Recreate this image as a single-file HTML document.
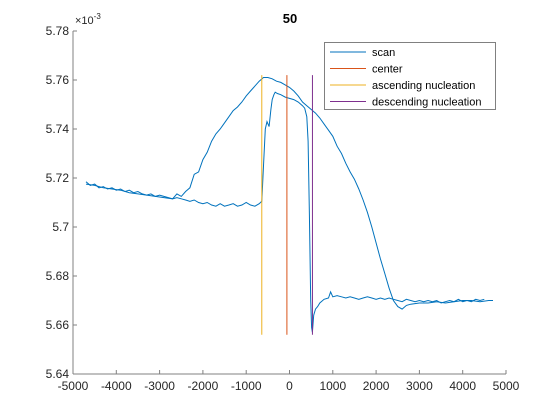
<!DOCTYPE html>
<html><head><meta charset="utf-8"><style>
body{margin:0;background:#fff;}
svg{display:block;font-family:"Liberation Sans",sans-serif;}
</style></head><body>
<svg id="chart" width="560" height="420">
<rect x="0" y="0" width="560" height="420" fill="#fff"/>
<text x="290" y="23" text-anchor="middle" font-size="13" font-weight="bold" fill="#000">50</text>
<text x="75" y="24" font-size="11" fill="#262626">×10<tspan dy="-5" font-size="8">-3</tspan></text>
<g id="axes"></g>
<g id="series"></g>
<g id="legend">
<rect x="324.5" y="42.5" width="171" height="67" fill="#fff" stroke="#808080" stroke-width="1"/>
</g>
</svg>
<script>
const xTicks=[-5000,-4000,-3000,-2000,-1000,0,1000,2000,3000,4000,5000];
const yTicks=[5.64,5.66,5.68,5.70,5.72,5.74,5.76,5.78];
const yTickLabels=["5.64","5.66","5.68","5.7","5.72","5.74","5.76","5.78"];
// branch 1 (flat then jump then dip)
const scan1X=[-4700,-4600,-4500,-4400,-4300,-4200,-4100,-4000,-3900,-3800,-3700,-3600,-3500,-3400,-3300,-3200,-3100,-3000,-2900,-2800,-2700,-2600,-2500,-2400,-2300,-2200,-2100,-2000,-1900,-1800,-1700,-1600,-1500,-1400,-1300,-1200,-1100,-1000,-900,-800,-700,-640,-600,-560,-520,-470,-430,-400,-360,-330,-280,-200,-100,0,100,200,300,350,400,430,460,490,510,530,560,600,650,700,800,900,950,1000,1100,1200,1300,1400,1500,1600,1700,1800,1900,2000,2100,2200,2300,2400,2500,2600,2700,2800,2900,3000,3100,3200,3300,3400,3500,3600,3700,3800,3900,4000,4100,4200,4300,4400,4500,4600,4700];
const scan1Y=[5.7185,5.717,5.7175,5.716,5.7165,5.7155,5.716,5.715,5.7155,5.7145,5.715,5.714,5.7145,5.7135,5.713,5.7135,5.7125,5.713,5.7125,5.712,5.7115,5.712,5.7115,5.711,5.7105,5.711,5.710,5.7095,5.710,5.709,5.7085,5.7095,5.7085,5.709,5.7095,5.7085,5.709,5.710,5.709,5.7085,5.7095,5.7105,5.725,5.740,5.743,5.741,5.748,5.752,5.754,5.755,5.7545,5.754,5.753,5.7525,5.752,5.751,5.7495,5.7485,5.745,5.735,5.705,5.67,5.659,5.657,5.664,5.6665,5.6675,5.669,5.6705,5.671,5.6735,5.6715,5.672,5.6715,5.671,5.6715,5.671,5.6705,5.671,5.6715,5.671,5.6705,5.671,5.6705,5.671,5.6705,5.670,5.6695,5.6705,5.670,5.6695,5.670,5.6695,5.670,5.6695,5.670,5.669,5.6695,5.670,5.6695,5.6705,5.6695,5.670,5.6695,5.6705,5.670,5.6705];
// branch 2 (hump)
const scan2X=[-4700,-4500,-4300,-4100,-3900,-3700,-3500,-3300,-3100,-2900,-2700,-2600,-2500,-2400,-2300,-2200,-2100,-2000,-1900,-1800,-1700,-1600,-1500,-1400,-1300,-1200,-1100,-1000,-900,-800,-700,-600,-500,-400,-300,-200,-100,0,100,200,300,400,500,600,700,800,900,1000,1100,1200,1300,1400,1500,1600,1700,1800,1900,2000,2100,2200,2300,2400,2500,2600,2700,2800,3000,3200,3400,3600,3800,4000,4200,4400,4600,4700];
const scan2Y=[5.7175,5.717,5.716,5.7155,5.715,5.714,5.7135,5.713,5.7125,5.712,5.7115,5.7135,5.7125,5.7145,5.716,5.7215,5.7225,5.7275,5.7305,5.735,5.738,5.740,5.7425,5.745,5.7475,5.749,5.751,5.7535,5.7555,5.7575,5.7595,5.761,5.761,5.7605,5.7595,5.759,5.758,5.757,5.7555,5.7535,5.751,5.7495,5.748,5.7465,5.7445,5.742,5.7395,5.737,5.733,5.730,5.726,5.7225,5.7195,5.7155,5.711,5.706,5.700,5.6935,5.687,5.681,5.675,5.670,5.6675,5.6665,5.668,5.6685,5.669,5.669,5.6695,5.669,5.6695,5.670,5.670,5.6695,5.670,5.670];
const markerNames=["center","ascending nucleation","descending nucleation"];
const markerX=[-60,-640,530];
const markerColors=["#D95319","#EDB120","#7E2F8E"];
const markerYRange=[5.656,5.762];

const L=73,R=506,T=31,B=374;
const xs=v=>L+(v+5000)/10000*(R-L);
const ys=v=>B-(v-5.64)/0.14*(B-T);
const NS="http://www.w3.org/2000/svg";
function mk(tag,attrs,parent){const e=document.createElementNS(NS,tag);for(const k in attrs)e.setAttribute(k,attrs[k]);parent.appendChild(e);return e;}
const ax=document.getElementById('axes');
let a=mk('line',{x1:L,y1:B,x2:R,y2:B,stroke:'#808080','stroke-width':1},ax);


a=mk('line',{x1:L,y1:T,x2:L,y2:B,stroke:'#808080','stroke-width':1},ax);


xTicks.forEach(t=>{const x=xs(t);
 const tk=mk('line',{x1:x,y1:B,x2:x,y2:B-4,stroke:'#808080'},ax);
 
 
 const tx=mk('text',{x:x,y:B+16,'text-anchor':'middle','font-size':12,fill:'#262626'},ax);tx.textContent=t;
 
 });
yTicks.forEach((t,i)=>{const y=ys(t);
 const tk=mk('line',{x1:L,y1:y,x2:L+4,y2:y,stroke:'#808080'},ax);
 
 
 const tx=mk('text',{x:L-4,y:y+4,'text-anchor':'end','font-size':12,fill:'#262626'},ax);tx.textContent=yTickLabels[i];
 
 });
const sg=document.getElementById('series');
function path(X,Y){return X.map((x,i)=>(i?'L':'M')+xs(x).toFixed(1)+','+ys(Y[i]).toFixed(1)).join('');}
let p=mk('path',{d:path(scan1X,scan1Y),fill:'none',stroke:'#0072BD','stroke-width':1},sg);


p=mk('path',{d:path(scan2X,scan2Y),fill:'none',stroke:'#0072BD','stroke-width':1},sg);


markerX.forEach((m,i)=>{const l=mk('line',{x1:xs(m),x2:xs(m),y1:ys(markerYRange[0]),y2:ys(markerYRange[1]),stroke:markerColors[i],'stroke-width':1},sg);
 
 });
const lg=document.getElementById('legend');
const entries=[["scan","#0072BD"]].concat(markerNames.map((n,i)=>[n,markerColors[i]]));
entries.forEach((e,i)=>{const y=52+i*16.5;
 const l=mk('line',{x1:330,x2:366,y1:y,y2:y,stroke:e[1]},lg);
 
 
 const t=mk('text',{x:372,y:y+4,'font-size':11,fill:'#000'},lg);t.textContent=e[0];
 
 });
</script>
</body></html>
